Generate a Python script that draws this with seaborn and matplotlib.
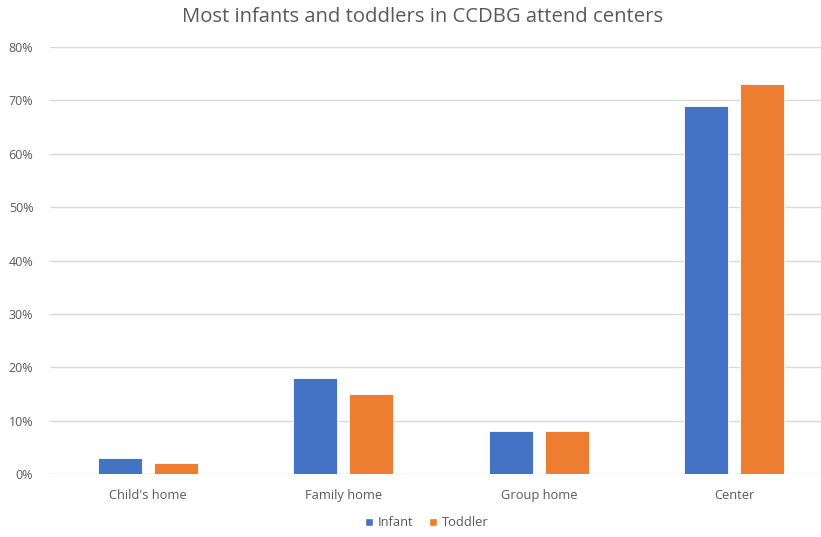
import matplotlib
matplotlib.use("Agg")
import matplotlib.pyplot as plt
import seaborn as sns
import pandas as pd
from matplotlib.ticker import PercentFormatter
from matplotlib.patches import Patch

settings = ["Child's home", "Family home", "Group home", "Center"]
infant = [0.03, 0.18, 0.08, 0.69]
toddler = [0.02, 0.15, 0.08, 0.73]
groups = ["Infant", "Toddler"]
colors = ["#4472C4", "#ED7D31"]
yticks = [0, 0.1, 0.2, 0.3, 0.4, 0.5, 0.6, 0.7, 0.8]

df = pd.DataFrame({
    "setting": settings * 2,
    "share": infant + toddler,
    "age": [groups[0]] * len(settings) + [groups[1]] * len(settings),
})

sns.set_theme(style="white")
plt.rcParams["font.family"] = ["Open Sans", "DejaVu Sans"]

W, H = 821, 537
fig = plt.figure(figsize=(W / 100, H / 100), dpi=100)
ax = fig.add_axes([50 / W, (H - 474) / H, (W - 50) / W, 427 / H])

sns.barplot(data=df, x="setting", y="share", hue="age", order=settings,
            hue_order=groups, palette=colors, width=0.57, gap=0.21,
            saturation=1, edgecolor="white", linewidth=0.6, ax=ax, legend=False)

ax.set_xlim(-0.5, -0.5 + (W - 50) / 195.5)
ax.set_ylim(0, 0.8)
ax.set_yticks(yticks)
ax.yaxis.set_major_formatter(PercentFormatter(1.0, decimals=0))
ax.grid(axis="y", color="#D9D9D9", linewidth=1)
ax.set_axisbelow(True)
for s in ax.spines.values():
    s.set_visible(False)
ax.set_xlabel("")
ax.set_ylabel("")
ax.tick_params(axis="x", length=0, labelsize=9.3, labelcolor="#595959", pad=11)
ax.tick_params(axis="y", length=0, labelsize=9, labelcolor="#595959", pad=12)

fig.text(423 / W, 1 - 17 / H, "Most infants and toddlers in CCDBG attend centers",
         ha="center", va="center", fontsize=14.6, color="#595959")

handles = [Patch(facecolor=c, label=g) for c, g in zip(colors, groups)]
fig.legend(handles=handles, loc="center", bbox_to_anchor=(427 / W, 1 - 523 / H),
           ncol=2, frameon=False, fontsize=9.3, labelcolor="#595959",
           handlelength=0.6, handleheight=0.6, handletextpad=0.4, columnspacing=1.2)

fig.savefig("out.png", dpi=100)
